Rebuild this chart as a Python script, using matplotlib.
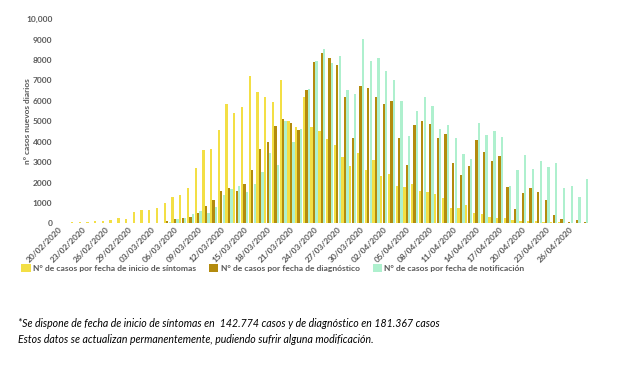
import matplotlib
matplotlib.use("Agg")
import matplotlib.pyplot as plt
import matplotlib.transforms as mtransforms
import numpy as np
import pandas as pd

plt.rcParams['font.family'] = ['Lato', 'DejaVu Sans']

dates = pd.date_range('2020-02-20', '2020-04-28').strftime('%d/%m/%Y').tolist()

sintomas = [30, 40, 50, 70, 90, 120, 130, 160, 270, 190,
            560, 660, 670, 740, 1020, 1270, 1390, 1750, 2700, 3600,
            3650, 4580, 5830, 5380, 5710, 7240, 6410, 6200, 5920, 7010,
            5020, 4730, 6180, 4730, 4500, 4110, 3830, 3260, 2790, 3430,
            2600, 3090, 2330, 2410, 1830, 1760, 1920, 1600, 1550, 1430,
            1250, 760, 750, 910, 530, 450, 310, 260, 240, 160,
            140, 140, 100, 80, 60, 50, 30, 15, 5]

diagnostico = [0, 0, 0, 0, 0, 0, 0, 0, 0, 0,
               5, 10, 20, 40, 130, 200, 240, 300, 490, 860,
               1140, 1580, 1720, 1600, 1920, 2610, 3620, 3960, 4790, 5090,
               4920, 4570, 6540, 7890, 8320, 8120, 7750, 6190, 4200, 6710,
               6650, 6170, 5840, 6000, 4190, 2850, 4840, 5020, 4890, 4160,
               4370, 2940, 2360, 2800, 4080, 3490, 3050, 3310, 1760, 700,
               1470, 1710, 1530, 1140, 410, 210, 90, 160, 50]

notificacion = [0, 0, 0, 0, 0, 0, 0, 0, 0, 0,
                5, 10, 20, 40, 80, 200, 260, 455, 620, 500,
                790, 1370, 1690, 1840, 1550, 1910, 2530, 3450, 2850, 5000,
                3970, 4600, 6560, 7930, 8560, 7870, 8190, 6520, 6330, 9010,
                7960, 8100, 7460, 7010, 6010, 4280, 5480, 6170, 5740, 4600,
                4830, 4160, 3380, 3150, 4920, 4320, 4530, 4210, 1830, 2610,
                3340, 2640, 3060, 2770, 2960, 1720, 1840, 1300, 2150]

series_labels = ['N° de casos por fecha de inicio de síntomas',
                 'N° de casos por fecha de diagnóstico',
                 'N° de casos por fecha de notificación']
colors = ['#F3DF45', '#B38B0E', '#AEF0CE']

yticks = [0, 1000, 2000, 3000, 4000, 5000, 6000, 7000, 8000, 9000, 10000]
ytick_labels = ['0', '1000', '2000', '3000', '4000', '5000', '6000', '7000', '8000', '9000', '10,000']

footnote1 = '*Se dispone de fecha de inicio de síntomas en  142.774 casos y de diagnóstico en 181.367 casos'
footnote2 = 'Estos datos se actualizan permanentemente, pudiendo sufrir alguna modificación.'

fig = plt.figure(figsize=(6.2, 3.68), dpi=100)
ax = fig.add_axes([0.0889, 0.393, 0.8616, 0.555])

x = np.arange(len(dates))
w = 0.30
off = 0.32
ax.bar(x - off, sintomas, width=w, color=colors[0], label=series_labels[0])
ax.bar(x, diagnostico, width=w, color=colors[1], label=series_labels[1])
ax.bar(x + off, notificacion, width=w, color=colors[2], label=series_labels[2])

ax.set_xlim(-0.5, len(dates) - 0.4)
ax.set_ylim(0, 10000)
for s in ax.spines.values():
    s.set_visible(False)

ax.set_yticks(yticks)
ax.set_yticklabels(ytick_labels, fontsize=6, color='#595959', fontweight='bold')
tick_idx = x[::3]
ax.set_xticks(tick_idx)
ax.set_xticklabels([dates[i] for i in tick_idx], rotation=45, ha='right', va='top',
                   rotation_mode='anchor', fontsize=6, color='#595959', fontweight='bold')
shift = mtransforms.ScaledTranslation(5 / 100, 0, fig.dpi_scale_trans)
for lbl in ax.get_xticklabels():
    lbl.set_transform(lbl.get_transform() + shift)
ax.tick_params(axis='both', length=0, pad=2)
ax.set_ylabel('nº casos nuevos diarios', fontsize=6, color='#595959', fontweight='bold')
ax.yaxis.set_label_coords(-0.045, 0.5)

fig.legend(loc='upper left', bbox_to_anchor=(0.022, 0.302), ncol=3, frameon=False,
           handlelength=1.1, handleheight=0.9, handletextpad=0.3,
           columnspacing=1.5, labelcolor='#595959', prop={'weight': 'bold', 'size': 6.1})

fig.text(0.029, 0.112, footnote1, fontsize=7.6, style='italic', color='black')
fig.text(0.029, 0.069, footnote2, fontsize=7.6, style='italic', color='black')

fig.savefig('out.png', dpi=100)
